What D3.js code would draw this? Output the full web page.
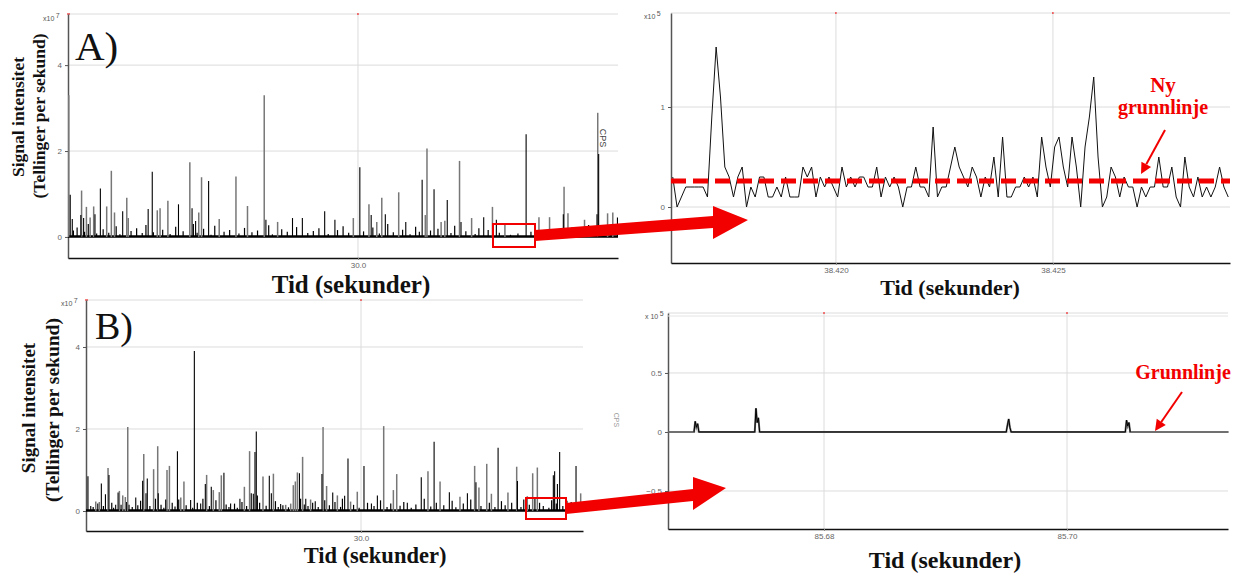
<!DOCTYPE html>
<html>
<head>
<meta charset="utf-8">
<script src="https://cdn.jsdelivr.net/npm/d3@7"></script>
<style>
  body { margin: 0; background: #fff; }
  svg { display: block; }
</style>
</head>
<body>
<svg id="fig" width="1242" height="575"></svg>
<script>
// ------------------------------------------------------------------
// Data
// ------------------------------------------------------------------
// A) full acquisition: [time (s), signal (x10^7 cps)]
const spikesA_gray = [[14.45,3.3],[15.14,1.08],[15.40,0.70],[15.60,0.45],[15.79,0.71],[16.49,0.71],[16.74,1.54],[16.91,0.57],[17.57,0.91],[17.65,0.44],[19.21,0.62],[19.36,0.67],[19.78,0.84],[20.96,1.74],[21.44,0.57],[21.59,1.39],[22.54,0.42],[23.44,1.41],[24.06,0.72],[24.96,3.3],[25.68,0.35],[29.75,0.44],[30.59,0.76],[31.01,0.35],[31.28,0.91],[32.19,1.04],[33.62,0.51],[33.71,2.06],[34.47,0.35],[34.67,0.38],[35.46,1.77],[36.11,0.44],[37.23,0.70],[37.90,0.30],[39.73,0.46],[40.30,0.46],[41.08,1.17],[41.29,0.55],[42.18,0.40],[42.89,2.89],[43.42,0.55],[43.70,0.57]];
const spikesA_black = [[14.53,0.98],[14.64,0.42],[15.10,0.51],[15.25,0.44],[15.86,0.53],[16.15,1.13],[17.35,0.60],[18.72,0.65],[18.94,1.52],[20.35,0.76],[21.08,0.67],[21.27,0.37],[21.97,1.30],[25.05,0.40],[26.48,0.44],[27.01,0.44],[28.21,0.60],[28.76,0.40],[30.10,1.62],[30.71,0.51],[31.47,0.53],[32.57,0.35],[33.45,1.33],[34.09,1.11],[34.80,0.86],[35.54,0.35],[36.76,0.46],[37.44,0.40],[39.04,2.39],[41.04,0.53],[42.85,0.53],[42.94,1.93],[43.95,0.45]];
const noiseA = [[14.7,0.15],[14.9,0.22],[15.3,0.12],[15.5,0.3],[15.95,0.08],[16.3,0.18],[16.6,0.1],[17.0,0.25],[17.2,0.06],[17.8,0.14],[18.1,0.2],[18.4,0.09],[18.6,0.28],[19.0,0.11],[19.5,0.17],[19.9,0.07],[20.2,0.24],[20.6,0.13],[21.15,0.3],[21.35,0.1],[21.7,0.19],[22.1,0.05],[22.3,0.26],[22.8,0.12],[23.1,0.16],[23.6,0.08],[23.9,0.21],[24.3,0.11],[24.6,0.15],[25.2,0.27],[25.4,0.06],[25.9,0.18],[26.2,0.12],[26.7,0.23],[27.3,0.09],[27.6,0.14],[27.9,0.2],[28.4,0.07],[28.9,0.16],[29.2,0.25],[29.5,0.1],[30.3,0.13],[30.8,0.22],[31.15,0.08],[31.6,0.3],[31.9,0.11],[32.4,0.17],[32.8,0.06],[33.1,0.24],[33.3,0.12],[33.9,0.15],[34.3,0.19],[35.0,0.09],[35.2,0.26],[35.8,0.13],[36.3,0.07],[36.5,0.2],[37.0,0.16],[37.6,0.1],[38.2,0.05],[38.6,0.08],[39.3,0.12],[39.5,0.06],[39.9,0.09],[40.6,0.18],[40.9,0.14],[41.5,0.22],[41.8,0.11],[42.4,0.28],[42.7,0.15],[43.2,0.2],[43.6,0.12]];
const ticksA_x = [30];
const ticksA_y = [0, 2, 4];

// A) zoomed window: one sample every 0.1 ms, signal in x10^5 cps
const zoomA_start = 38.41624;
const zoomA_dwell = 0.0001;
const zoomA_values = [0.3,0,0.1,0.2,0.2,0.2,0.2,0.2,0.1,0.9,1.6,1.1,0.4,0.3,0.1,0.3,0.4,0,0.2,0.1,0.3,0.3,0.1,0.1,0.2,0.1,0.3,0.1,0.1,0.1,0.4,0.3,0.4,0.1,0.3,0.2,0.3,0.2,0.1,0.4,0.2,0.3,0.2,0.3,0.3,0.2,0.2,0.4,0.1,0.3,0.2,0.3,0.2,0,0.2,0.2,0.4,0.2,0.2,0.1,0.8,0.1,0.2,0.2,0.4,0.6,0.4,0.3,0.2,0.4,0.3,0.1,0.3,0.2,0.5,0.1,0.7,0.1,0.1,0.2,0.2,0.3,0.2,0.3,0.1,0.7,0.4,0.2,0.6,0.7,0.4,0.2,0.7,0.4,0,0.6,0.9,1.3,0.5,0,0.1,0.4,0.3,0.1,0.3,0.2,0.2,0,0.2,0.1,0.2,0.2,0.5,0.2,0.2,0.4,0.1,0,0.5,0.2,0.1,0.3,0.1,0.2,0.1,0.2,0.4,0.2,0.1];
const zoomA_baseline = 0.26;
const ticksZA_x = [38.420, 38.425];
const ticksZA_y = [0, 1];

// B) full acquisition: [time (s), signal (x10^7 cps)]
const spikesB_gray = [[15.74,0.23],[15.93,0.22],[16.40,1.05],[17.01,0.49],[17.19,0.38],[17.33,0.34],[17.46,2.05],[18.32,1.39],[18.85,1.02],[19.07,1.58],[19.57,1.0],[19.70,1.1],[20.31,0.33],[20.48,0.72],[21.70,0.88],[22.06,0.51],[22.38,0.46],[22.49,0.87],[23.73,0.59],[24.01,1.46],[24.73,0.84],[25.29,0.91],[25.95,0.15],[26.22,0.18],[26.36,0.63],[26.47,0.72],[26.58,0.94],[26.86,1.32],[27.29,0.28],[27.96,2.05],[28.15,0.61],[28.73,0.38],[29.44,0.23],[29.80,0.47],[31.22,2.07],[31.74,0.51],[31.92,0.9],[33.60,0.97],[34.25,0.72],[35.32,0.35],[36.11,1.1],[36.34,0.57],[36.76,1.15],[37.01,0.42],[37.90,0.45],[38.37,1.08],[38.94,0.36],[39.23,0.92],[39.48,1.06],[41.09,0.25],[41.81,0.43]];
const spikesB_black = [[15.32,0.85],[15.47,0.12],[16.04,0.67],[16.26,0.41],[16.45,0.88],[16.81,0.15],[16.94,0.45],[17.53,0.15],[17.89,0.33],[18.26,0.74],[18.44,0.43],[18.51,0.79],[19.10,0.43],[19.50,0.28],[20.13,1.46],[20.84,0.27],[21.04,3.9],[21.38,0.18],[21.63,0.66],[21.95,0.59],[22.63,0.93],[22.99,0.18],[23.49,0.3],[24.10,0.43],[24.21,0.42],[24.30,1.44],[24.37,1.94],[24.43,0.38],[25.07,0.86],[25.18,0.43],[25.68,0.17],[26.69,0.92],[27.03,0.3],[27.54,0.24],[27.90,0.9],[28.48,0.45],[29.12,0.37],[29.30,1.28],[30.16,1.1],[30.56,0.18],[30.88,0.38],[32.49,0.2],[33.24,0.82],[33.93,1.69],[34.75,0.46],[35.72,0.43],[36.18,0.7],[37.37,1.54],[38.41,0.73],[40.34,0.87],[40.41,0.97],[40.56,0.66],[40.68,1.44],[41.56,1.1]];
const noiseB = [[15.6,0.1],[15.85,0.18],[16.15,0.12],[16.6,0.2],[16.7,0.08],[17.1,0.15],[17.4,0.22],[17.7,0.1],[18.0,0.14],[18.15,0.25],[18.65,0.12],[18.95,0.3],[19.25,0.15],[19.4,0.08],[19.85,0.2],[20.0,0.11],[20.2,0.28],[20.6,0.14],[20.95,0.08],[21.2,0.2],[21.5,0.3],[21.85,0.12],[22.2,0.26],[22.75,0.16],[22.9,0.1],[23.2,0.18],[23.35,0.08],[23.6,0.22],[23.85,0.12],[24.55,0.2],[24.9,0.13],[25.4,0.24],[25.55,0.1],[25.8,0.14],[26.1,0.09],[26.75,0.3],[26.95,0.16],[27.15,0.12],[27.4,0.2],[27.7,0.1],[28.05,0.26],[28.3,0.14],[28.6,0.22],[28.9,0.1],[29.0,0.3],[29.6,0.15],[29.9,0.08],[30.35,0.2],[30.7,0.12],[31.05,0.26],[31.4,0.1],[31.6,0.18],[32.1,0.13],[32.3,0.22],[32.7,0.08],[32.95,0.16],[33.4,0.3],[33.75,0.11],[34.05,0.2],[34.45,0.14],[34.9,0.25],[35.1,0.09],[35.5,0.18],[35.9,0.28],[36.45,0.12],[36.9,0.2],[37.2,0.1],[37.55,0.24],[37.75,0.14],[38.1,0.2],[38.6,0.1],[38.75,0.28],[39.05,0.15],[39.35,0.3],[39.6,0.2],[39.8,0.12],[40.1,0.08],[40.25,0.26],[40.5,0.18],[40.85,0.12],[41.3,0.22],[41.7,0.1]];
const ticksB_x = [30];
const ticksB_y = [0, 2, 4];

// B) zoomed window: [time (s), signal (x10^5 cps)]
const zoomB_points = [[85.6672,0],[85.6693,0],[85.6694,0.09],[85.6695,0.04],[85.6696,0.07],[85.6697,0],[85.6743,0],[85.6744,0.2],[85.6745,0.08],[85.6746,0.12],[85.6747,0],[85.6950,0],[85.6951,0.06],[85.6952,0.11],[85.6953,0.04],[85.6954,0],[85.7048,0],[85.7049,0.1],[85.7050,0.05],[85.7051,0.08],[85.7052,0],[85.7133,0]];
const ticksZB_x = [85.68, 85.70];
const ticksZB_y = [-0.5, 0, 0.5];

// ------------------------------------------------------------------
// Drawing
// ------------------------------------------------------------------
const svg = d3.select('#fig');
const SERIF = '"Liberation Serif","Times New Roman",serif';
const SANS = '"Liberation Sans",Arial,sans-serif';
const RED = '#f20000';

// Builds one chart frame (grid, axes, scales) and returns its scales
function frame(o) {
  const x = d3.scaleLinear().domain(o.xDomain).range([o.x0, o.x1]);
  const y = d3.scaleLinear().domain(o.yDomain).range([o.yBot, o.yTop]);
  const g = svg.append('g');

  // horizontal grid incl. top border
  g.selectAll(null).data(o.yTicks.concat([o.yDomain[1]])).join('line')
    .attr('x1', o.x0).attr('x2', o.x1)
    .attr('y1', d => y(d)).attr('y2', d => y(d))
    .attr('stroke', '#dcdcdc').attr('stroke-width', 1);
  // vertical grid
  g.selectAll(null).data(o.xTicks).join('line')
    .attr('x1', d => x(d)).attr('x2', d => x(d))
    .attr('y1', o.yTop).attr('y2', o.yBot)
    .attr('stroke', '#dcdcdc').attr('stroke-width', 1);
  // small red marks at the top of each vertical line
  g.selectAll(null).data(o.xTicks).join('line')
    .attr('x1', d => x(d)).attr('x2', d => x(d))
    .attr('y1', o.yTop - 1).attr('y2', o.yTop + 1)
    .attr('stroke', RED).attr('stroke-width', 1);
  if (o.cornerMark) {
    g.append('line').attr('x1', o.x0 - 1).attr('x2', o.x0 + 2)
      .attr('y1', o.yTop).attr('y2', o.yTop).attr('stroke', RED).attr('stroke-width', 1);
  }

  // left axis
  const ay = g.append('g').attr('transform', `translate(${o.x0},0)`)
    .call(d3.axisLeft(y).tickValues(o.yTicks).tickFormat(o.yFmt)
      .tickSize(3).tickSizeOuter(0).tickPadding(3));
  ay.select('.domain').attr('stroke', '#555').attr('stroke-width', 1.5);
  ay.selectAll('.tick line').attr('stroke', '#555');
  ay.selectAll('.tick text').attr('font-family', SANS).attr('font-size', 8).attr('fill', '#666');

  // bottom axis
  const ax = g.append('g').attr('transform', `translate(0,${o.yBot})`)
    .call(d3.axisBottom(x).tickValues(o.xTicks).tickFormat(o.xFmt)
      .tickSize(2).tickSizeOuter(0).tickPadding(2));
  ax.select('.domain').attr('stroke', '#111').attr('stroke-width', 1.5);
  ax.selectAll('.tick line').attr('stroke', '#888');
  ax.selectAll('.tick text').attr('font-family', SANS).attr('font-size', 8).attr('fill', '#666');

  // exponent label
  const ex = g.append('text').attr('x', o.expX).attr('y', o.expY)
    .attr('font-family', SANS).attr('font-size', 7).attr('fill', '#555');
  ex.append('tspan').text(o.expBase);
  ex.append('tspan').attr('dy', -3).attr('dx', 1.5).text(o.expPow);

  return { x, y, g };
}

// Spike trace: vertical strokes from zero to each value plus the noisy base
function spikes(f, data, color, width) {
  f.g.selectAll(null).data(data).join('line')
    .attr('x1', d => f.x(d[0])).attr('x2', d => f.x(d[0]))
    .attr('y1', f.y(0)).attr('y2', d => f.y(d[1]))
    .attr('stroke', color).attr('stroke-width', width);
}
function baseLine(f) {
  const [a, b] = f.x.domain();
  f.g.append('line').attr('x1', f.x(a)).attr('x2', f.x(b))
    .attr('y1', f.y(0) - 0.5).attr('y2', f.y(0) - 0.5)
    .attr('stroke', '#000').attr('stroke-width', 2.5);
}

const fmt1 = d3.format('.1f');
const fmt3 = d3.format('.3f');
const fmt2 = d3.format('.2f');
const fmtY = d => d3.format('~g')(d);

// ---- A) full run ----
const fA = frame({
  x0: 68, x1: 618, yTop: 14, yBot: 258,
  xDomain: [14.41, 43.98], yDomain: [-0.49, 5.19],
  xTicks: ticksA_x, yTicks: ticksA_y, xFmt: fmt1, yFmt: fmtY,
  expX: 43, expY: 21, expBase: 'x10', expPow: '7', cornerMark: true
});
baseLine(fA);
spikes(fA, noiseA, '#000', 1.2);
spikes(fA, spikesA_gray, '#777', 1.5);
spikes(fA, spikesA_black, '#000', 1.1);

// ---- B) full run ----
const fB = frame({
  x0: 86, x1: 583, yTop: 300, yBot: 531,
  xDomain: [15.215, 41.935], yDomain: [-0.488, 5.146],
  xTicks: ticksB_x, yTicks: ticksB_y, xFmt: fmt1, yFmt: fmtY,
  expX: 61, expY: 306, expBase: 'x10', expPow: '7', cornerMark: true
});
baseLine(fB);
spikes(fB, noiseB, '#000', 1.2);
spikes(fB, spikesB_gray, '#777', 1.5);
spikes(fB, spikesB_black, '#000', 1.1);

// ---- A) zoomed window ----
const fZA = frame({
  x0: 671, x1: 1230, yTop: 13, yBot: 263,
  xDomain: [38.41620, 38.42908], yDomain: [-0.56, 1.94],
  xTicks: ticksZA_x, yTicks: ticksZA_y, xFmt: fmt3, yFmt: fmtY,
  expX: 644, expY: 19, expBase: 'x10', expPow: '5'
});
const zoomA = zoomA_values.map((v, i) => [zoomA_start + i * zoomA_dwell, v]);
fZA.g.append('path').datum(zoomA)
  .attr('d', d3.line().x(d => fZA.x(d[0])).y(d => fZA.y(d[1])))
  .attr('fill', 'none').attr('stroke', '#111').attr('stroke-width', 1);
fZA.g.append('line')
  .attr('x1', fZA.x(fZA.x.domain()[0])).attr('x2', fZA.x(fZA.x.domain()[1]))
  .attr('y1', fZA.y(zoomA_baseline)).attr('y2', fZA.y(zoomA_baseline))
  .attr('stroke', RED).attr('stroke-width', 5).attr('stroke-dasharray', '15,7');

// ---- B) zoomed window ----
const fZB = frame({
  x0: 668, x1: 1228, yTop: 313, yBot: 529,
  xDomain: [85.66716, 85.71325], yDomain: [-0.822, 1.008],
  xTicks: ticksZB_x, yTicks: ticksZB_y, xFmt: fmt2, yFmt: fmtY,
  expX: 645, expY: 319, expBase: 'x 10', expPow: '5'
});
fZB.g.append('line')
  .attr('x1', fZB.x.range()[0]).attr('x2', fZB.x.range()[1])
  .attr('y1', fZB.y.range()[1] + 3).attr('y2', fZB.y.range()[1] + 3)
  .attr('stroke', '#e4e4e4').attr('stroke-width', 1);
const zbLine = d3.line().x(d => fZB.x(d[0])).y(d => fZB.y(d[1]));
fZB.g.append('path').datum(zoomB_points).attr('d', zbLine)
  .attr('fill', 'none').attr('stroke', '#707070').attr('stroke-width', 2);
// peaks are traced in black on top of the grey base
const zbPeaks = d3.line().x(d => fZB.x(d[0])).y(d => fZB.y(d[1]))
  .defined((d, i, arr) => d[1] > 0 || (arr[i - 1] && arr[i - 1][1] > 0) || (arr[i + 1] && arr[i + 1][1] > 0));
fZB.g.append('path').datum(zoomB_points).attr('d', zbPeaks)
  .attr('fill', 'none').attr('stroke', '#000').attr('stroke-width', 1);

// ------------------------------------------------------------------
// Text
// ------------------------------------------------------------------
function label(x, y, txt, size, opts = {}) {
  const t = svg.append('text').attr('x', x).attr('y', y).text(txt)
    .attr('font-family', opts.family || SERIF)
    .attr('font-size', size)
    .attr('font-weight', opts.weight || 'bold')
    .attr('fill', opts.fill || '#111')
    .attr('text-anchor', opts.anchor || 'middle');
  if (opts.rotate) t.attr('transform', `rotate(${opts.rotate},${x},${y})`);
  return t;
}

label(75, 60, 'A)', 41, { weight: 'normal', anchor: 'start' });
label(95, 339, 'B)', 38, { weight: 'normal', anchor: 'start' });

label(24, 117, 'Signal intensitet', 17.5, { rotate: -90 });
label(45, 116, '(Tellinger per sekund)', 17.5, { rotate: -90 });
label(35, 408, 'Signal intensitet', 19, { rotate: -90 });
label(59, 410, '(Tellinger per sekund)', 19.5, { rotate: -90 });

label(351, 293, 'Tid (sekunder)', 25);
label(950, 295, 'Tid (sekunder)', 22);
label(375, 563, 'Tid (sekunder)', 22.5);
label(945, 568, 'Tid (sekunder)', 24);

label(600, 138, 'CPS', 9, { weight: 'normal', family: SANS, fill: '#444', rotate: 90 });
label(614, 420, 'CPS', 7, { weight: 'normal', family: SANS, fill: '#999', rotate: 90 });

label(1163, 92, 'Ny', 21, { fill: RED });
label(1163, 114, 'grunnlinje', 20, { fill: RED });
label(1183, 379, 'Grunnlinje', 20, { fill: RED });

// ------------------------------------------------------------------
// Annotations: zoom boxes, connecting arrows, pointer arrows
// ------------------------------------------------------------------
const ann = svg.append('g');
ann.append('rect').attr('x', 493).attr('y', 224).attr('width', 42).attr('height', 23)
  .attr('fill', 'none').attr('stroke', RED).attr('stroke-width', 2);
ann.append('rect').attr('x', 526).attr('y', 498).attr('width', 40).attr('height', 21)
  .attr('fill', 'none').attr('stroke', RED).attr('stroke-width', 2);

ann.append('polygon')
  .attr('points', '535,230 713,216 713,206 748,220 713,239 713,228 535,241')
  .attr('fill', RED);
ann.append('polygon')
  .attr('points', '566,503 693,489 693,477 726,488 693,510 693,501 566,514')
  .attr('fill', RED);

function pointer(x1, y1, x2, y2) {
  const ang = Math.atan2(y2 - y1, x2 - x1);
  const L = 11, W = 5.5;
  const bx = x2 - L * Math.cos(ang), by = y2 - L * Math.sin(ang);
  ann.append('line').attr('x1', x1).attr('y1', y1).attr('x2', bx).attr('y2', by)
    .attr('stroke', RED).attr('stroke-width', 2);
  const px = -Math.sin(ang) * W, py = Math.cos(ang) * W;
  ann.append('polygon')
    .attr('points', `${x2},${y2} ${bx + px},${by + py} ${bx - px},${by - py}`)
    .attr('fill', RED);
}
pointer(1165, 130, 1141, 174);
pointer(1182, 392, 1155, 431);
</script>
</body>
</html>
